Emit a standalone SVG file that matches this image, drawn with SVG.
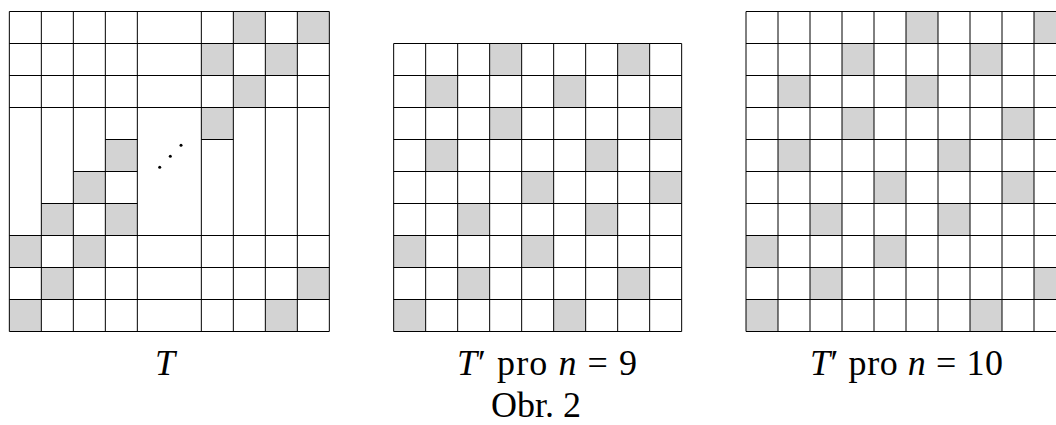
<svg xmlns="http://www.w3.org/2000/svg" width="1056" height="425" viewBox="0 0 1056 425">
<style>
.bg{fill:#ffffff}
.sh{fill:#d3d3d3;stroke:none}
.ln{stroke:#000000;stroke-width:1;fill:none}
.lbl{font-family:"Liberation Serif","Times New Roman",serif;font-size:36px;fill:#000000}
.it{font-style:italic}
</style>
<rect x="0" y="0" width="1056" height="425" class="bg"/>

<g id="gridT">
  <g class="cells">
    <rect class="sh" x="233.33" y="11.5" width="32" height="32"/>
    <rect class="sh" x="297.33" y="11.5" width="32" height="32"/>
    <rect class="sh" x="201.33" y="43.5" width="32" height="32"/>
    <rect class="sh" x="265.33" y="43.5" width="32" height="32"/>
    <rect class="sh" x="233.33" y="75.5" width="32" height="32"/>
    <rect class="sh" x="201.33" y="107.5" width="32" height="32"/>
    <rect class="sh" x="105.33" y="139.5" width="32" height="32"/>
    <rect class="sh" x="73.33" y="171.5" width="32" height="32"/>
    <rect class="sh" x="41.33" y="203.5" width="32" height="32"/>
    <rect class="sh" x="105.33" y="203.5" width="32" height="32"/>
    <rect class="sh" x="9.33" y="235.5" width="32" height="32"/>
    <rect class="sh" x="73.33" y="235.5" width="32" height="32"/>
    <rect class="sh" x="41.33" y="267.5" width="32" height="32"/>
    <rect class="sh" x="297.33" y="267.5" width="32" height="32"/>
    <rect class="sh" x="9.33" y="299.5" width="32" height="32"/>
    <rect class="sh" x="265.33" y="299.5" width="32" height="32"/>
  </g>
  <path class="ln" d="M9.33 11.5V331.5M41.33 11.5V331.5M73.33 11.5V331.5M105.33 11.5V331.5M137.33 11.5V331.5M201.33 11.5V331.5M233.33 11.5V331.5M265.33 11.5V331.5M297.33 11.5V331.5M329.33 11.5V331.5"/>
  <path class="ln" d="M9.33 11.5H329.33M9.33 43.5H329.33M9.33 75.5H329.33M9.33 107.5H329.33M9.33 235.5H329.33M9.33 267.5H329.33M9.33 299.5H329.33M9.33 331.5H329.33"/>
  <path class="ln" d="M105.33 139.5H137.33M201.33 139.5H233.33M73.33 171.5H137.33M41.33 203.5H137.33"/>
  <circle cx="159.7" cy="167.3" r="1.5" fill="#000"/>
  <circle cx="170.3" cy="156.3" r="1.5" fill="#000"/>
  <circle cx="181" cy="145.3" r="1.5" fill="#000"/>
</g>

<g id="gridT9">
  <g class="cells">
    <rect class="sh" x="489.67" y="43.5" width="32" height="32"/>
    <rect class="sh" x="617.67" y="43.5" width="32" height="32"/>
    <rect class="sh" x="425.67" y="75.5" width="32" height="32"/>
    <rect class="sh" x="553.67" y="75.5" width="32" height="32"/>
    <rect class="sh" x="489.67" y="107.5" width="32" height="32"/>
    <rect class="sh" x="649.67" y="107.5" width="32" height="32"/>
    <rect class="sh" x="425.67" y="139.5" width="32" height="32"/>
    <rect class="sh" x="585.67" y="139.5" width="32" height="32"/>
    <rect class="sh" x="521.67" y="171.5" width="32" height="32"/>
    <rect class="sh" x="649.67" y="171.5" width="32" height="32"/>
    <rect class="sh" x="457.67" y="203.5" width="32" height="32"/>
    <rect class="sh" x="585.67" y="203.5" width="32" height="32"/>
    <rect class="sh" x="393.67" y="235.5" width="32" height="32"/>
    <rect class="sh" x="521.67" y="235.5" width="32" height="32"/>
    <rect class="sh" x="457.67" y="267.5" width="32" height="32"/>
    <rect class="sh" x="617.67" y="267.5" width="32" height="32"/>
    <rect class="sh" x="393.67" y="299.5" width="32" height="32"/>
    <rect class="sh" x="553.67" y="299.5" width="32" height="32"/>
  </g>
  <path class="ln" d="M393.67 43.5V331.5M425.67 43.5V331.5M457.67 43.5V331.5M489.67 43.5V331.5M521.67 43.5V331.5M553.67 43.5V331.5M585.67 43.5V331.5M617.67 43.5V331.5M649.67 43.5V331.5M681.67 43.5V331.5"/>
  <path class="ln" d="M393.67 43.5H681.67M393.67 75.5H681.67M393.67 107.5H681.67M393.67 139.5H681.67M393.67 171.5H681.67M393.67 203.5H681.67M393.67 235.5H681.67M393.67 267.5H681.67M393.67 299.5H681.67M393.67 331.5H681.67"/>
</g>

<g id="gridT10">
  <g class="cells">
    <rect class="sh" x="906" y="11.5" width="32" height="32"/>
    <rect class="sh" x="1034" y="11.5" width="32" height="32"/>
    <rect class="sh" x="842" y="43.5" width="32" height="32"/>
    <rect class="sh" x="970" y="43.5" width="32" height="32"/>
    <rect class="sh" x="778" y="75.5" width="32" height="32"/>
    <rect class="sh" x="906" y="75.5" width="32" height="32"/>
    <rect class="sh" x="842" y="107.5" width="32" height="32"/>
    <rect class="sh" x="1002" y="107.5" width="32" height="32"/>
    <rect class="sh" x="778" y="139.5" width="32" height="32"/>
    <rect class="sh" x="938" y="139.5" width="32" height="32"/>
    <rect class="sh" x="874" y="171.5" width="32" height="32"/>
    <rect class="sh" x="1002" y="171.5" width="32" height="32"/>
    <rect class="sh" x="810" y="203.5" width="32" height="32"/>
    <rect class="sh" x="938" y="203.5" width="32" height="32"/>
    <rect class="sh" x="746" y="235.5" width="32" height="32"/>
    <rect class="sh" x="874" y="235.5" width="32" height="32"/>
    <rect class="sh" x="810" y="267.5" width="32" height="32"/>
    <rect class="sh" x="1034" y="267.5" width="32" height="32"/>
    <rect class="sh" x="746" y="299.5" width="32" height="32"/>
    <rect class="sh" x="970" y="299.5" width="32" height="32"/>
  </g>
  <path class="ln" d="M746 11.5V331.5M778 11.5V331.5M810 11.5V331.5M842 11.5V331.5M874 11.5V331.5M906 11.5V331.5M938 11.5V331.5M970 11.5V331.5M1002 11.5V331.5M1034 11.5V331.5M1066 11.5V331.5"/>
  <path class="ln" d="M746 11.5H1066M746 43.5H1066M746 75.5H1066M746 107.5H1066M746 139.5H1066M746 171.5H1066M746 203.5H1066M746 235.5H1066M746 267.5H1066M746 299.5H1066M746 331.5H1066"/>
</g>

<g id="labels">
  <text class="lbl it" x="165" y="375" text-anchor="middle">T</text>
  <text class="lbl" x="457" y="375" textLength="180" lengthAdjust="spacing"><tspan class="it">T</tspan>′ pro <tspan class="it">n</tspan> = 9</text>
  <text class="lbl" x="810" y="375" textLength="193" lengthAdjust="spacing"><tspan class="it">T</tspan>′ pro <tspan class="it">n</tspan> = 10</text>
  <text class="lbl" x="536" y="416.5" text-anchor="middle">Obr. 2</text>
</g>
</svg>
